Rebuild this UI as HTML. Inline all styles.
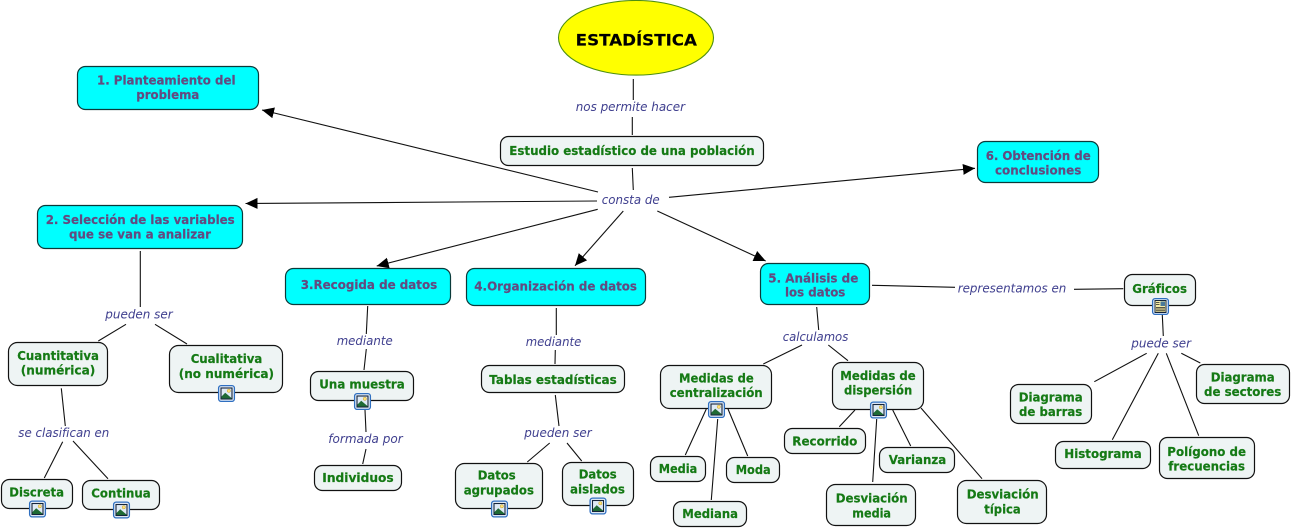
<!DOCTYPE html>
<html lang="es">
<head>
<meta charset="utf-8">
<title>Estadística</title>
<style>
html,body{margin:0;padding:0;background:#fff;width:1292px;height:529px;overflow:hidden}
svg{display:block}
text{font-family:"DejaVu Sans","Liberation Sans",sans-serif;font-size:12.5px;white-space:pre}
.n rect{fill:#eef4f4;stroke:#111;stroke-width:1.2}
.c rect{fill:#00ffff;stroke:#0b3a3a;stroke-width:1.2}
.g text{font-weight:bold;fill:#157a15;font-size:12.4px;stroke:#157a15;stroke-width:.2}
.p text{font-weight:bold;fill:#634a80;font-size:12.4px;stroke:#634a80;stroke-width:.2}
.l text{font-style:italic;fill:#40408f}
.k{stroke:#111;stroke-width:1.1;fill:none}
</style>
</head>
<body>
<svg width="1292" height="529" viewBox="0 0 1292 529" xmlns="http://www.w3.org/2000/svg">
<defs>
<marker id="a" markerUnits="userSpaceOnUse" markerWidth="13" markerHeight="12" refX="12" refY="5.5" orient="auto"><path d="M0 0L12 5.5L0 11Z" fill="#000"/></marker>
<g id="i">
<rect x="0.6" y="0.6" width="15.8" height="15.8" rx="2.5" fill="#e8f0fb" stroke="#2f6fc0" stroke-width="1.3"/>
<rect x="3" y="3" width="11" height="11" fill="#dfeaf5" stroke="#14243a" stroke-width="1.1"/>
<circle cx="10.8" cy="5.8" r="1.6" fill="#ffe27a" stroke="#c49a20" stroke-width=".5"/>
<path d="M3.5 13.5V11.5L7.2 7.8L13.5 13V13.5Z" fill="#1f6a35"/>
</g>
<g id="j">
<rect x="0.6" y="0.6" width="15.8" height="15.8" rx="2.5" fill="#e8f0fb" stroke="#2f6fc0" stroke-width="1.3"/>
<rect x="3" y="2.5" width="11" height="12" fill="#f5eda8" stroke="#14243a" stroke-width="1"/>
<rect x="8.5" y="3.5" width="4.5" height="4.5" fill="#4a7a9a"/>
<path d="M4 4.5H7.5M4 6.5H7.5M4 9.5H13M4 11H13M4 12.8H13" stroke="#222" stroke-width=".8"/>
</g>
</defs>

<ellipse cx="636" cy="37.8" rx="77.5" ry="37.3" fill="#ffff00" stroke="#4f8f10" stroke-width="1.1"/>
<text x="575.7" y="45.6" textLength="121.3" lengthAdjust="spacingAndGlyphs" font-weight="bold" style="font-size:15.8px;stroke:#000;stroke-width:.15" fill="#000">ESTADÍSTICA</text>

<!-- connectors -->
<g class="k">
<path d="M633.3 79V100M632.3 117V135M632.3 168L633.3 190"/>
<path d="M598 192L262 110" marker-end="url(#a)"/>
<path d="M597 201L245.5 203.5" marker-end="url(#a)"/>
<path d="M597.7 209.3L376.7 266" marker-end="url(#a)"/>
<path d="M623.3 211L575 265.7" marker-end="url(#a)"/>
<path d="M657.3 211L765.7 261" marker-end="url(#a)"/>
<path d="M669 197.3L975 168.3" marker-end="url(#a)"/>
<path d="M140.3 251V307M126 324.3L98.3 341M155 324.3L187 344"/>
<path d="M61.3 388.3L65.3 426M62.7 441.7L44.3 478M73 441L108 478.7"/>
<path d="M367.7 306L366.3 334M366.3 349L364 370M365 410L366 432M366 449L362.7 464"/>
<path d="M556.3 308V335M555.3 350L555 364M555.3 395L559 426M549.7 443L527.3 462M567 443L581.7 461"/>
<path d="M816.7 307L818.7 330M802 345L763.3 364M828.3 345L848 360.7"/>
<path d="M706.3 409L685.3 455M717.7 419L711.3 500M728 409L747.7 456"/>
<path d="M855 410L839.3 426.7M876.7 419L872.7 482M892.7 410L910.7 446M921 408L982 478.7"/>
<path d="M872 285.3L955 287.3M1074 289.3L1123.3 288.7M1162.3 315L1163.3 336"/>
<path d="M1146.7 353.3L1094.3 381.7M1158.3 353.3L1112.3 439.7M1166.3 353.3L1198.7 435.7M1181.3 353.3L1200.3 363"/>
</g>

<!-- cyan nodes -->
<g class="c">
<rect x="77.5" y="66.5" width="181" height="43" rx="8"/>
<rect x="37.5" y="205.5" width="205" height="43" rx="8"/>
<rect x="285.5" y="268.5" width="165" height="36" rx="8"/>
<rect x="466.5" y="268.5" width="179" height="37" rx="8"/>
<rect x="760.5" y="263.5" width="109" height="41" rx="8"/>
<rect x="977.5" y="141.5" width="121" height="41" rx="8"/>
</g>

<!-- green nodes -->
<g class="n">
<rect x="500.5" y="136.5" width="263" height="29" rx="8"/>
<rect x="8.5" y="342.5" width="99" height="43" rx="9"/>
<rect x="169.5" y="345.5" width="113" height="47" rx="9"/>
<rect x="1.5" y="479.5" width="71" height="29" rx="8"/>
<rect x="82.5" y="480.5" width="77" height="29" rx="8"/>
<rect x="310.5" y="371.5" width="103" height="29" rx="8"/>
<rect x="314.5" y="465.5" width="87" height="25" rx="8"/>
<rect x="481.5" y="365.5" width="143" height="27" rx="8"/>
<rect x="455.5" y="463.5" width="87" height="45" rx="9"/>
<rect x="562.5" y="462.5" width="71" height="43" rx="9"/>
<rect x="660.5" y="365.5" width="111" height="43" rx="9"/>
<rect x="650.5" y="456.5" width="55" height="25" rx="8"/>
<rect x="726.5" y="457.5" width="53" height="25" rx="8"/>
<rect x="673.5" y="501.5" width="73" height="25" rx="8"/>
<rect x="832.5" y="362.5" width="91" height="47" rx="9"/>
<rect x="784.5" y="428.5" width="81" height="25" rx="8"/>
<rect x="879.5" y="447.5" width="75" height="25" rx="8"/>
<rect x="826.5" y="484.5" width="89" height="41" rx="9"/>
<rect x="957.5" y="480.5" width="89" height="43" rx="9"/>
<rect x="1124.5" y="274.5" width="71" height="31" rx="8"/>
<rect x="1010.5" y="384.5" width="81" height="39" rx="8"/>
<rect x="1055.5" y="441.5" width="95" height="27" rx="8"/>
<rect x="1159.5" y="437.5" width="95" height="41" rx="8"/>
<rect x="1196.5" y="364.5" width="93" height="39" rx="8"/>
</g>

<!-- icons -->
<use href="#i" x="218" y="385"/>
<use href="#i" x="29" y="500.5"/>
<use href="#i" x="113" y="501.5"/>
<use href="#i" x="354" y="393"/>
<use href="#i" x="491" y="500.5"/>
<use href="#i" x="589.5" y="497.5"/>
<use href="#i" x="708" y="401"/>
<use href="#i" x="870" y="401.5"/>
<use href="#j" x="1152" y="298"/>

<!-- cyan labels -->
<g class="p">
<text x="97" y="84.5" textLength="138.5" lengthAdjust="spacingAndGlyphs">1. Planteamiento del</text>
<text x="136.3" y="99" textLength="63" lengthAdjust="spacingAndGlyphs">problema</text>
<text x="45.7" y="224" textLength="189" lengthAdjust="spacingAndGlyphs">2. Selección de las variables</text>
<text x="69" y="238.7" textLength="142" lengthAdjust="spacingAndGlyphs">que se van a analizar</text>
<text x="300.7" y="289" textLength="136.5" lengthAdjust="spacingAndGlyphs">3.Recogida de datos</text>
<text x="474.3" y="290.7" textLength="162.7" lengthAdjust="spacingAndGlyphs">4.Organización de datos</text>
<text x="768.3" y="282.3" textLength="90" lengthAdjust="spacingAndGlyphs">5. Análisis de</text>
<text x="785" y="296.7" textLength="60.3" lengthAdjust="spacingAndGlyphs">los datos</text>
<text x="985.7" y="160" textLength="105" lengthAdjust="spacingAndGlyphs">6. Obtención de</text>
<text x="995" y="174.3" textLength="86.3" lengthAdjust="spacingAndGlyphs">conclusiones</text>
</g>

<!-- green labels -->
<g class="g">
<text x="509.3" y="155" textLength="245.4" lengthAdjust="spacingAndGlyphs">Estudio estadístico de una población</text>
<text x="17.3" y="360" textLength="81.7" lengthAdjust="spacingAndGlyphs">Cuantitativa</text>
<text x="20.7" y="374.7" textLength="74.6" lengthAdjust="spacingAndGlyphs">(numérica)</text>
<text x="190.7" y="363" textLength="71.6" lengthAdjust="spacingAndGlyphs">Cualitativa</text>
<text x="178.7" y="378" textLength="95.3" lengthAdjust="spacingAndGlyphs">(no numérica)</text>
<text x="9.3" y="496.3" textLength="54.7" lengthAdjust="spacingAndGlyphs">Discreta</text>
<text x="91.3" y="497.3" textLength="59.4" lengthAdjust="spacingAndGlyphs">Continua</text>
<text x="319.3" y="388.7" textLength="85.4" lengthAdjust="spacingAndGlyphs">Una muestra</text>
<text x="322.3" y="482" textLength="71.4" lengthAdjust="spacingAndGlyphs">Individuos</text>
<text x="489.3" y="384" textLength="127.4" lengthAdjust="spacingAndGlyphs">Tablas estadísticas</text>
<text x="477.7" y="479.7" textLength="38" lengthAdjust="spacingAndGlyphs">Datos</text>
<text x="463.7" y="494.3" textLength="70.3" lengthAdjust="spacingAndGlyphs">agrupados</text>
<text x="578.7" y="478.7" textLength="38" lengthAdjust="spacingAndGlyphs">Datos</text>
<text x="570" y="493.7" textLength="55" lengthAdjust="spacingAndGlyphs">aislados</text>
<text x="679" y="382.3" textLength="74.7" lengthAdjust="spacingAndGlyphs">Medidas de</text>
<text x="669.7" y="397" textLength="93" lengthAdjust="spacingAndGlyphs">centralización</text>
<text x="658.7" y="473" textLength="38.6" lengthAdjust="spacingAndGlyphs">Media</text>
<text x="735.7" y="474" textLength="35" lengthAdjust="spacingAndGlyphs">Moda</text>
<text x="682.3" y="518" textLength="55.7" lengthAdjust="spacingAndGlyphs">Mediana</text>
<text x="840.3" y="380" textLength="75.4" lengthAdjust="spacingAndGlyphs">Medidas de</text>
<text x="844" y="394.7" textLength="68.3" lengthAdjust="spacingAndGlyphs">dispersión</text>
<text x="792.3" y="445.3" textLength="65" lengthAdjust="spacingAndGlyphs">Recorrido</text>
<text x="888.7" y="464" textLength="57.6" lengthAdjust="spacingAndGlyphs">Varianza</text>
<text x="835.7" y="502.7" textLength="72" lengthAdjust="spacingAndGlyphs">Desviación</text>
<text x="852.3" y="517.3" textLength="38.7" lengthAdjust="spacingAndGlyphs">media</text>
<text x="966.7" y="498.7" textLength="72" lengthAdjust="spacingAndGlyphs">Desviación</text>
<text x="984.3" y="513.3" textLength="36.4" lengthAdjust="spacingAndGlyphs">típica</text>
<text x="1132.3" y="293" textLength="54.7" lengthAdjust="spacingAndGlyphs">Gráficos</text>
<text x="1018.7" y="401.3" textLength="64" lengthAdjust="spacingAndGlyphs">Diagrama</text>
<text x="1019" y="416" textLength="63.3" lengthAdjust="spacingAndGlyphs">de barras</text>
<text x="1064.3" y="458" textLength="77.4" lengthAdjust="spacingAndGlyphs">Histograma</text>
<text x="1167.3" y="456" textLength="78.7" lengthAdjust="spacingAndGlyphs">Polígono de</text>
<text x="1168.3" y="470.7" textLength="76.7" lengthAdjust="spacingAndGlyphs">frecuencias</text>
<text x="1210.7" y="381.3" textLength="64" lengthAdjust="spacingAndGlyphs">Diagrama</text>
<text x="1204" y="396" textLength="77.3" lengthAdjust="spacingAndGlyphs">de sectores</text>
</g>

<!-- link labels -->
<g class="l">
<text x="575.7" y="111" textLength="109.3" lengthAdjust="spacingAndGlyphs">nos permite hacer</text>
<text x="601.7" y="204" textLength="58" lengthAdjust="spacingAndGlyphs">consta de</text>
<text x="105.3" y="318.3" textLength="67.4" lengthAdjust="spacingAndGlyphs">pueden ser</text>
<text x="18.3" y="437" textLength="91" lengthAdjust="spacingAndGlyphs">se clasifican en</text>
<text x="336.7" y="345" textLength="56" lengthAdjust="spacingAndGlyphs">mediante</text>
<text x="328.3" y="443" textLength="74.4" lengthAdjust="spacingAndGlyphs">formada por</text>
<text x="525.7" y="346" textLength="55.6" lengthAdjust="spacingAndGlyphs">mediante</text>
<text x="524.3" y="437" textLength="67.4" lengthAdjust="spacingAndGlyphs">pueden ser</text>
<text x="782.7" y="341" textLength="65.6" lengthAdjust="spacingAndGlyphs">calculamos</text>
<text x="957.7" y="292.7" textLength="108.6" lengthAdjust="spacingAndGlyphs">representamos en</text>
<text x="1131.3" y="347.3" textLength="59.7" lengthAdjust="spacingAndGlyphs">puede ser</text>
</g>
</svg>
</body>
</html>
